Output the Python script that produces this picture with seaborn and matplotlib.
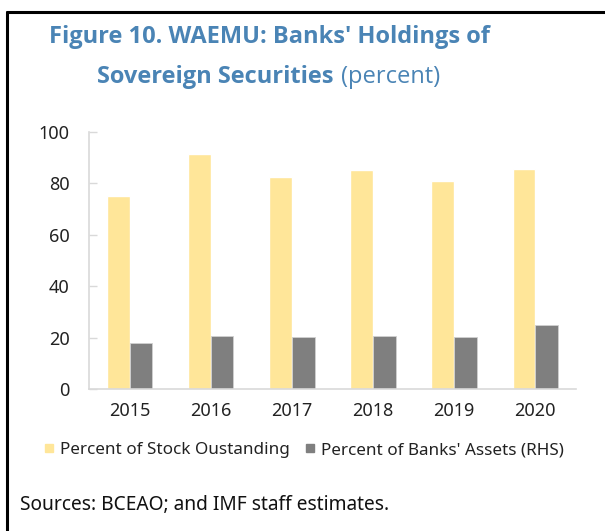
import pandas as pd
import matplotlib.pyplot as plt
import seaborn as sb
from matplotlib.lines import Line2D

years = ['2015', '2016', '2017', '2018', '2019', '2020']
stock = [75.2, 91.5, 82.5, 85.3, 80.9, 85.5]  # percent of stock outstanding
assets = [18.0, 20.7, 20.3, 20.6, 20.3, 24.9]  # percent of banks' assets
series = ['Percent of Stock Oustanding', "Percent of Banks' Assets (RHS)"]
colors = ['#FFE699', '#7F7F7F']
blue = '#4A84B5'

data = pd.DataFrame({
    'year': years * 2,
    'value': stock + assets,
    'series': [series[0]] * len(years) + [series[1]] * len(years),
})

sb.set_theme(style='white')
plt.rcParams['font.family'] = ['Noto Sans', 'DejaVu Sans']

fig = plt.figure(figsize=(6.05, 5.31), dpi=100)
ax = fig.add_axes([0.147, 0.2674, 0.805, 0.484])

sb.barplot(data=data, x='year', y='value', hue='series', palette=colors,
           width=0.56, gap=0, saturation=1, ax=ax, legend=False)
for b in ax.patches[len(years):]:
    b.set_edgecolor('#D0D0D0')
    b.set_linewidth(0.6)

ax.set_ylim(0, 100)
ax.set_yticks(range(0, 101, 20))
ax.set_xlim(-0.5, len(years) - 0.5)
ax.set_xlabel('')
ax.set_ylabel('')
for s in ['top', 'right']:
    ax.spines[s].set_visible(False)
for s in ['left', 'bottom']:
    ax.spines[s].set_color('#D9D9D9')
    ax.spines[s].set_linewidth(1.2)
ax.tick_params(axis='y', direction='in', length=6, color='#D9D9D9', width=1,
               left=True, pad=14, labelsize=13, labelcolor='#222222')
ax.tick_params(axis='x', length=0, pad=9, labelsize=13, labelcolor='#222222')

handles = [Line2D([], [], marker='s', linestyle='', markersize=6,
                  markerfacecolor=c, markeredgecolor=c) for c in colors]
fig.legend(handles, series, loc='center', bbox_to_anchor=(0.502, 0.1525),
           ncol=2, frameon=False, fontsize=12.3, handlelength=0.6,
           handletextpad=0.35, columnspacing=0.9, labelcolor='#222222')

tfont = ['Open Sans', 'DejaVu Sans']
fig.text(0.446, 0.919, "Figure 10. WAEMU: Banks' Holdings of", ha='center',
         va='baseline', fontsize=17, fontweight='bold', color=blue, family=tfont)
fig.text(0.551, 0.844, 'Sovereign Securities', ha='right', va='baseline',
         fontsize=17, fontweight='bold', color=blue, family=tfont)
fig.text(0.563, 0.844, '(percent)', ha='left', va='baseline',
         fontsize=17, color=blue, family=tfont)

fig.text(0.033, 0.04, 'Sources: BCEAO; and IMF staff estimates.', ha='left',
         va='baseline', fontsize=13.8, color='#111111')

# frame lines on the left and top
fig.add_artist(Line2D([0.012, 0.012], [0.0, 0.977], color='black', lw=2.2,
                      transform=fig.transFigure))
fig.add_artist(Line2D([0.011, 1.0], [0.977, 0.977], color='black', lw=2.2,
                      transform=fig.transFigure))

fig.savefig('out.png', dpi=100)
